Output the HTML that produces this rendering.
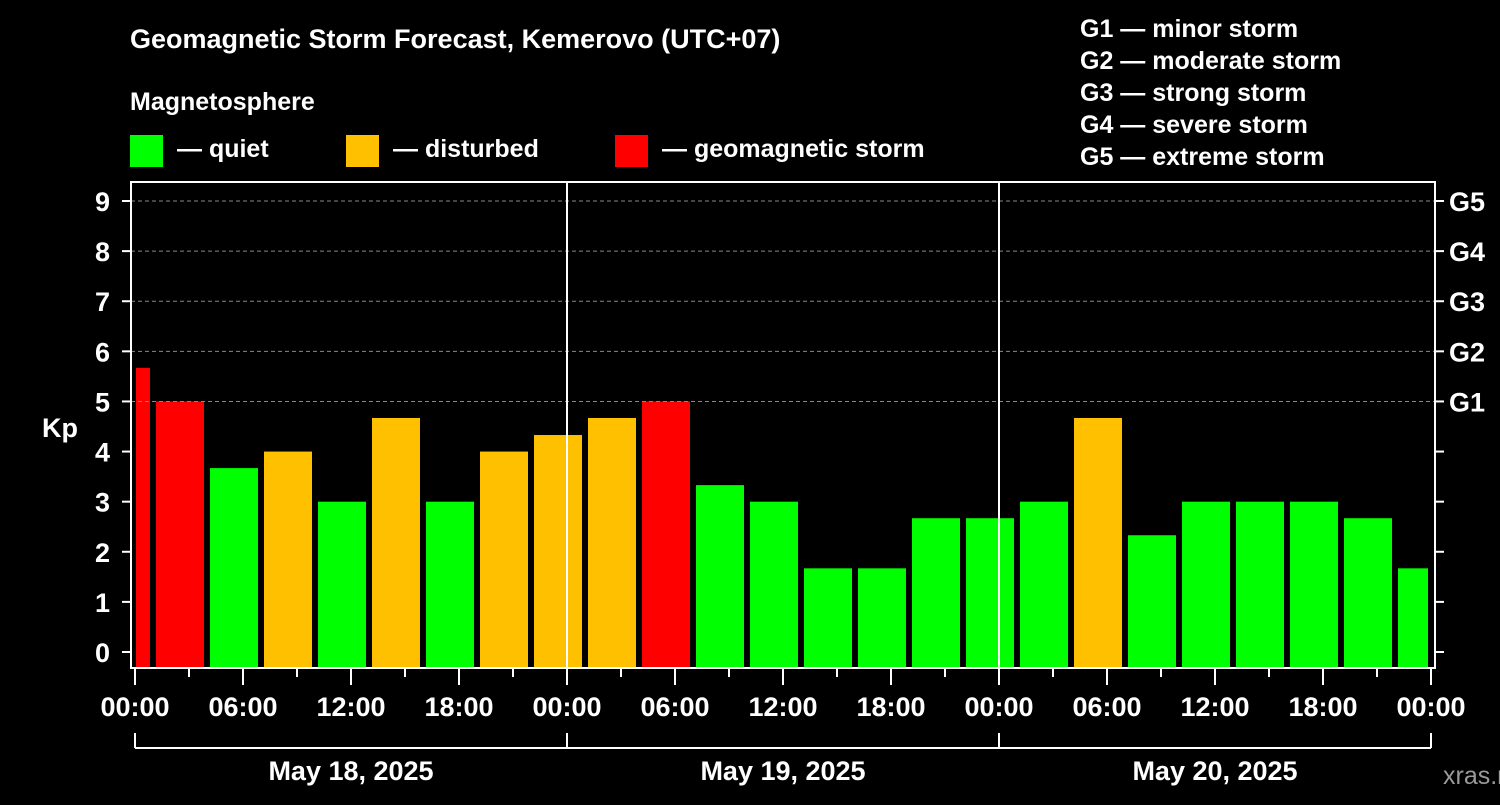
<!DOCTYPE html>
<html><head><meta charset="utf-8"><style>
body{margin:0;background:#000;width:1500px;height:800px;overflow:hidden}
svg text{font-family:"Liberation Sans",sans-serif;font-weight:bold;fill:#fff}
</style></head><body>
<svg id="c" width="1500" height="800" xmlns="http://www.w3.org/2000/svg">
<rect width="1500" height="800" fill="#000"/>
<text x="130" y="48" font-size="27">Geomagnetic Storm Forecast, Kemerovo (UTC+07)</text>
<text x="130" y="110" font-size="25">Magnetosphere</text>
<g><rect x="130" y="135" width="33" height="32" fill="#00ff00"/><text x="177" y="157" font-size="25">— quiet</text></g>
<g><rect x="346" y="135" width="33" height="32" fill="#ffc000"/><text x="393" y="157" font-size="25">— disturbed</text></g>
<g><rect x="615" y="135" width="33" height="32" fill="#ff0000"/><text x="662" y="157" font-size="25">— geomagnetic storm</text></g>
<g font-size="25">
<text x="1080" y="37">G1 — minor storm</text>
<text x="1080" y="69">G2 — moderate storm</text>
<text x="1080" y="101">G3 — strong storm</text>
<text x="1080" y="133">G4 — severe storm</text>
<text x="1080" y="165">G5 — extreme storm</text>
</g>
<g id="bars"></g>
<g id="axes"></g>
<text x="42" y="437" font-size="27">Kp</text>
<text x="1443" y="784" font-size="25" fill="#999" style="fill:#9a9a9a;font-weight:normal">xras.ru</text>
</svg>
<script>
const kpValues=[5.67,5,3.67,4,3,4.67,3,4,4.33,4.67,5,3.33,3,1.67,1.67,2.67,2.67,3,4.67,2.33,3,3,3,2.67,1.67];
const slotStartHours=[-2,1,4,7,10,13,16,19,22,25,28,31,34,37,40,43,46,49,52,55,58,61,64,67,70];
const yTicks=[0,1,2,3,4,5,6,7,8,9];
const gLevels=[[5,"G1"],[6,"G2"],[7,"G3"],[8,"G4"],[9,"G5"]];
const xTickLabels=["00:00","06:00","12:00","18:00"];
const dayLabels=["May 18, 2025","May 19, 2025","May 20, 2025"];
const NS="http://www.w3.org/2000/svg";
const L=131,R=1435,T=182,B=668,X0=135,PH=18;
const x=h=>X0+h*PH;
const y=v=>652-v*50.11;
function mk(tag,attrs,parent){const e=document.createElementNS(NS,tag);for(const k in attrs)e.setAttribute(k,attrs[k]);parent.appendChild(e);return e;}
const bars=document.getElementById('bars'),ax=document.getElementById('axes');
kpValues.forEach((v,i)=>{
  let x1=x(slotStartHours[i])+3,x2=x(slotStartHours[i]+3)-3;
  x1=Math.max(x1,L+5);x2=Math.min(x2,R-7);
  const col=v>=5?'#ff0000':(v>=4?'#ffc000':'#00ff00');
  const r=mk('rect',{x:x1,y:y(v),width:x2-x1,height:B-y(v),fill:col},bars);
  
  
});
gLevels.forEach(g=>{
  mk('line',{x1:L,x2:R,y1:y(g[0]),y2:y(g[0]),stroke:'#888','stroke-dasharray':'4,3','stroke-width':1},ax);
  const t=mk('text',{x:1449,y:y(g[0])+10,'font-size':27},ax);t.textContent=g[1];
  
  
});
yTicks.forEach(v=>{
  mk('line',{x1:122,x2:L,y1:y(v),y2:y(v),stroke:'#fff','stroke-width':2},ax);
  mk('line',{x1:R,x2:R+9,y1:y(v),y2:y(v),stroke:'#fff','stroke-width':2},ax);
  const t=mk('text',{x:110,y:y(v)+10,'font-size':27,'text-anchor':'end'},ax);t.textContent=v;
  
  
});
mk('rect',{x:L,y:T,width:R-L,height:B-T,fill:'none',stroke:'#fff','stroke-width':2},ax);
[1,2].forEach(d=>mk('line',{x1:x(24*d),x2:x(24*d),y1:T,y2:B,stroke:'#fff','stroke-width':2},ax));
for(let h=0;h<=72;h+=3){
  const long=h%6==0;
  mk('line',{x1:x(h),x2:x(h),y1:B,y2:B+(long?17:9),stroke:'#fff','stroke-width':2},ax);
  if(long){const t=mk('text',{x:x(h),y:716,'font-size':27,'text-anchor':'middle'},ax);t.textContent=xTickLabels[(h/6)%4];
  
  }
}
mk('line',{x1:x(0),x2:x(72),y1:748,y2:748,stroke:'#fff','stroke-width':2},ax);
for(let d=0;d<=3;d++)mk('line',{x1:x(24*d),x2:x(24*d),y1:733,y2:748,stroke:'#fff','stroke-width':2},ax);
dayLabels.forEach((s,d)=>{const t=mk('text',{x:x(24*d+12),y:780,'font-size':27,'text-anchor':'middle'},ax);t.textContent=s;
  
  });
</script>
</body></html>
